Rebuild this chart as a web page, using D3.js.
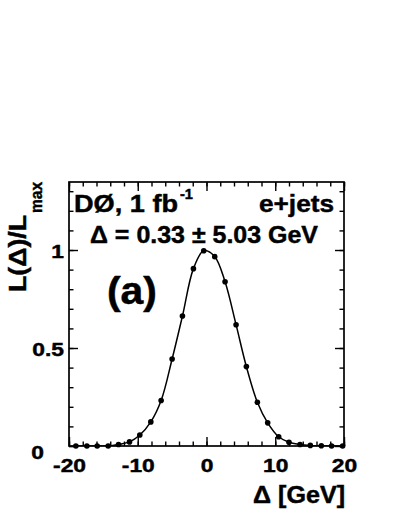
<!DOCTYPE html>
<html>
<head>
<meta charset="utf-8">
<script src="https://cdn.jsdelivr.net/npm/d3@7"></script>
<style>
  body { margin: 0; background: #fff; }
  svg text { font-family: "Liberation Sans", Arial, Helvetica, sans-serif; font-weight: bold; fill: #000;
             stroke: #000; stroke-width: 0.45px; }
</style>
</head>
<body>
<svg id="chart"></svg>
<script>
const width = 399, height = 516;
const margin = { top: 182, right: 55, bottom: 70, left: 69 };
const plotRight = width - margin.right, plotBottom = height - margin.bottom;

// Likelihood scan points
const deltaValues = [-19.0, -17.4, -15.9, -14.3, -12.8, -11.2, -9.7, -8.1, -6.6, -5.0,
                     -3.5, -1.9, -0.4, 1.2, 2.7, 4.3, 5.8, 7.4, 8.9, 10.5,
                     12.0, 13.6, 15.1, 16.7, 18.2, 19.8];
const likelihoodValues = [0, 0, 0, 0, 0.008, 0.021, 0.056, 0.123, 0.232, 0.444,
                          0.663, 0.905, 0.996, 0.966, 0.838, 0.619, 0.405, 0.223, 0.118, 0.047,
                          0.019, 0.008, 0.003, 0.001, 0, 0];
const xMajorTicks = [-20, -10, 0, 10, 20];
const yMajorTicks = [0, 0.5, 1];

const points = deltaValues.map((d, i) => ({ x: d, y: likelihoodValues[i] }));

const svg = d3.select("#chart")
    .attr("width", width)
    .attr("height", height)
    .style("background", "#fff");

const xScale = d3.scaleLinear().domain([-20, 20]).range([margin.left, plotRight]);
const yScale = d3.scaleLinear().domain([0, 1.347]).range([plotBottom, margin.top]);

// stretch text horizontally, the original lettering is wide
function stretchText(sel, k) {
    sel.each(function() {
        const w = this.getComputedTextLength();
        d3.select(this).attr("textLength", w * k).attr("lengthAdjust", "spacingAndGlyphs");
    });
}

// clip for the curve
svg.append("clipPath").attr("id", "plotclip")
    .append("rect")
    .attr("x", margin.left).attr("y", margin.top)
    .attr("width", plotRight - margin.left).attr("height", plotBottom - margin.top);

// Curve through the points
const line = d3.line()
    .x(d => xScale(d.x))
    .y(d => yScale(d.y))
    .curve(d3.curveCatmullRom.alpha(0.5));

svg.append("path")
    .datum(points)
    .attr("clip-path", "url(#plotclip)")
    .attr("d", line)
    .attr("fill", "none")
    .attr("stroke", "#000")
    .attr("stroke-width", 1.5);

// Points
svg.selectAll("circle.pt")
    .data(points)
    .enter().append("circle")
    .attr("class", "pt")
    .attr("cx", d => xScale(d.x))
    .attr("cy", d => yScale(d.y))
    .attr("r", 2.8)
    .attr("fill", "#000");

// Axes: ticks pointing inside, mirrored on top and right
const xMinor = d3.range(-20, 20.001, 2);
const yMinor = d3.range(0, 1.31, 0.1);

function tickStyle(g) {
    g.select(".domain").remove();
    g.selectAll("line").attr("stroke", "#000").attr("stroke-width", 1.4);
}

svg.append("g")
    .attr("transform", `translate(0,${plotBottom})`)
    .call(d3.axisBottom(xScale).tickValues(xMinor).tickSize(-4.5).tickFormat(""))
    .call(tickStyle);
const xAxis = svg.append("g")
    .attr("transform", `translate(0,${plotBottom})`)
    .call(d3.axisBottom(xScale).tickValues(xMajorTicks).tickSize(-9).tickPadding(13).tickFormat(d => String(d)))
    .call(tickStyle);
xAxis.selectAll("text")
    .attr("font-size", 19)
    .attr("font-family", null)
    .call(stretchText, 1.2);

svg.append("g")
    .attr("transform", `translate(0,${margin.top})`)
    .call(d3.axisTop(xScale).tickValues(xMinor).tickSize(-4.5).tickFormat(""))
    .call(tickStyle);
svg.append("g")
    .attr("transform", `translate(0,${margin.top})`)
    .call(d3.axisTop(xScale).tickValues(xMajorTicks).tickSize(-9).tickFormat(""))
    .call(tickStyle);

svg.append("g")
    .attr("transform", `translate(${margin.left},0)`)
    .call(d3.axisLeft(yScale).tickValues(yMinor).tickSize(-4.5).tickFormat(""))
    .call(tickStyle);
const yAxis = svg.append("g")
    .attr("transform", `translate(${margin.left},0)`)
    .call(d3.axisLeft(yScale).tickValues(yMajorTicks).tickSize(-9).tickPadding(5).tickFormat(d => String(d)))
    .call(tickStyle);
yAxis.selectAll("text")
    .attr("font-size", 19)
    .attr("font-family", null)
    .attr("dy", "0.42em")
    .call(stretchText, 1.2);
// the zero label sits lower and further left, as in the original
yAxis.selectAll(".tick").filter(d => d === 0).select("text")
    .attr("x", -25)
    .attr("dy", "0.68em");

svg.append("g")
    .attr("transform", `translate(${plotRight},0)`)
    .call(d3.axisRight(yScale).tickValues(yMinor).tickSize(-4.5).tickFormat(""))
    .call(tickStyle);
svg.append("g")
    .attr("transform", `translate(${plotRight},0)`)
    .call(d3.axisRight(yScale).tickValues(yMajorTicks).tickSize(-9).tickFormat(""))
    .call(tickStyle);

// Frame
svg.append("rect")
    .attr("x", margin.left).attr("y", margin.top)
    .attr("width", plotRight - margin.left).attr("height", plotBottom - margin.top)
    .attr("fill", "none")
    .attr("stroke", "#000")
    .attr("stroke-width", 1.7);

// Labels inside the frame
svg.append("text")
    .attr("x", 74).attr("y", 212)
    .attr("font-size", 24)
    .attr("textLength", 104).attr("lengthAdjust", "spacingAndGlyphs")
    .text("DØ, 1 fb");
svg.append("text")
    .attr("x", 180).attr("y", 199)
    .attr("font-size", 14)
    .attr("textLength", 13).attr("lengthAdjust", "spacingAndGlyphs")
    .text("-1");

svg.append("text")
    .attr("x", 334).attr("y", 212)
    .attr("text-anchor", "end")
    .attr("font-size", 24)
    .attr("textLength", 75).attr("lengthAdjust", "spacingAndGlyphs")
    .text("e+jets");

svg.append("text")
    .attr("x", 90).attr("y", 243)
    .attr("font-size", 24)
    .attr("textLength", 228).attr("lengthAdjust", "spacingAndGlyphs")
    .text("Δ = 0.33 ± 5.03 GeV");

svg.append("text")
    .attr("x", 107).attr("y", 304)
    .attr("font-size", 38)
    .attr("textLength", 50).attr("lengthAdjust", "spacingAndGlyphs")
    .text("(a)");

// Axis titles
svg.append("text")
    .attr("x", 345).attr("y", 503)
    .attr("text-anchor", "end")
    .attr("font-size", 23)
    .attr("textLength", 92).attr("lengthAdjust", "spacingAndGlyphs")
    .text("Δ [GeV]");

svg.append("text")
    .attr("transform", "translate(26,292) rotate(-90)")
    .attr("font-size", 24)
    .attr("textLength", 77).attr("lengthAdjust", "spacingAndGlyphs")
    .text("L(Δ)/L");
svg.append("text")
    .attr("transform", "translate(42,213) rotate(-90)")
    .attr("font-size", 17)
    .attr("textLength", 31).attr("lengthAdjust", "spacingAndGlyphs")
    .text("max");
</script>
</body>
</html>
